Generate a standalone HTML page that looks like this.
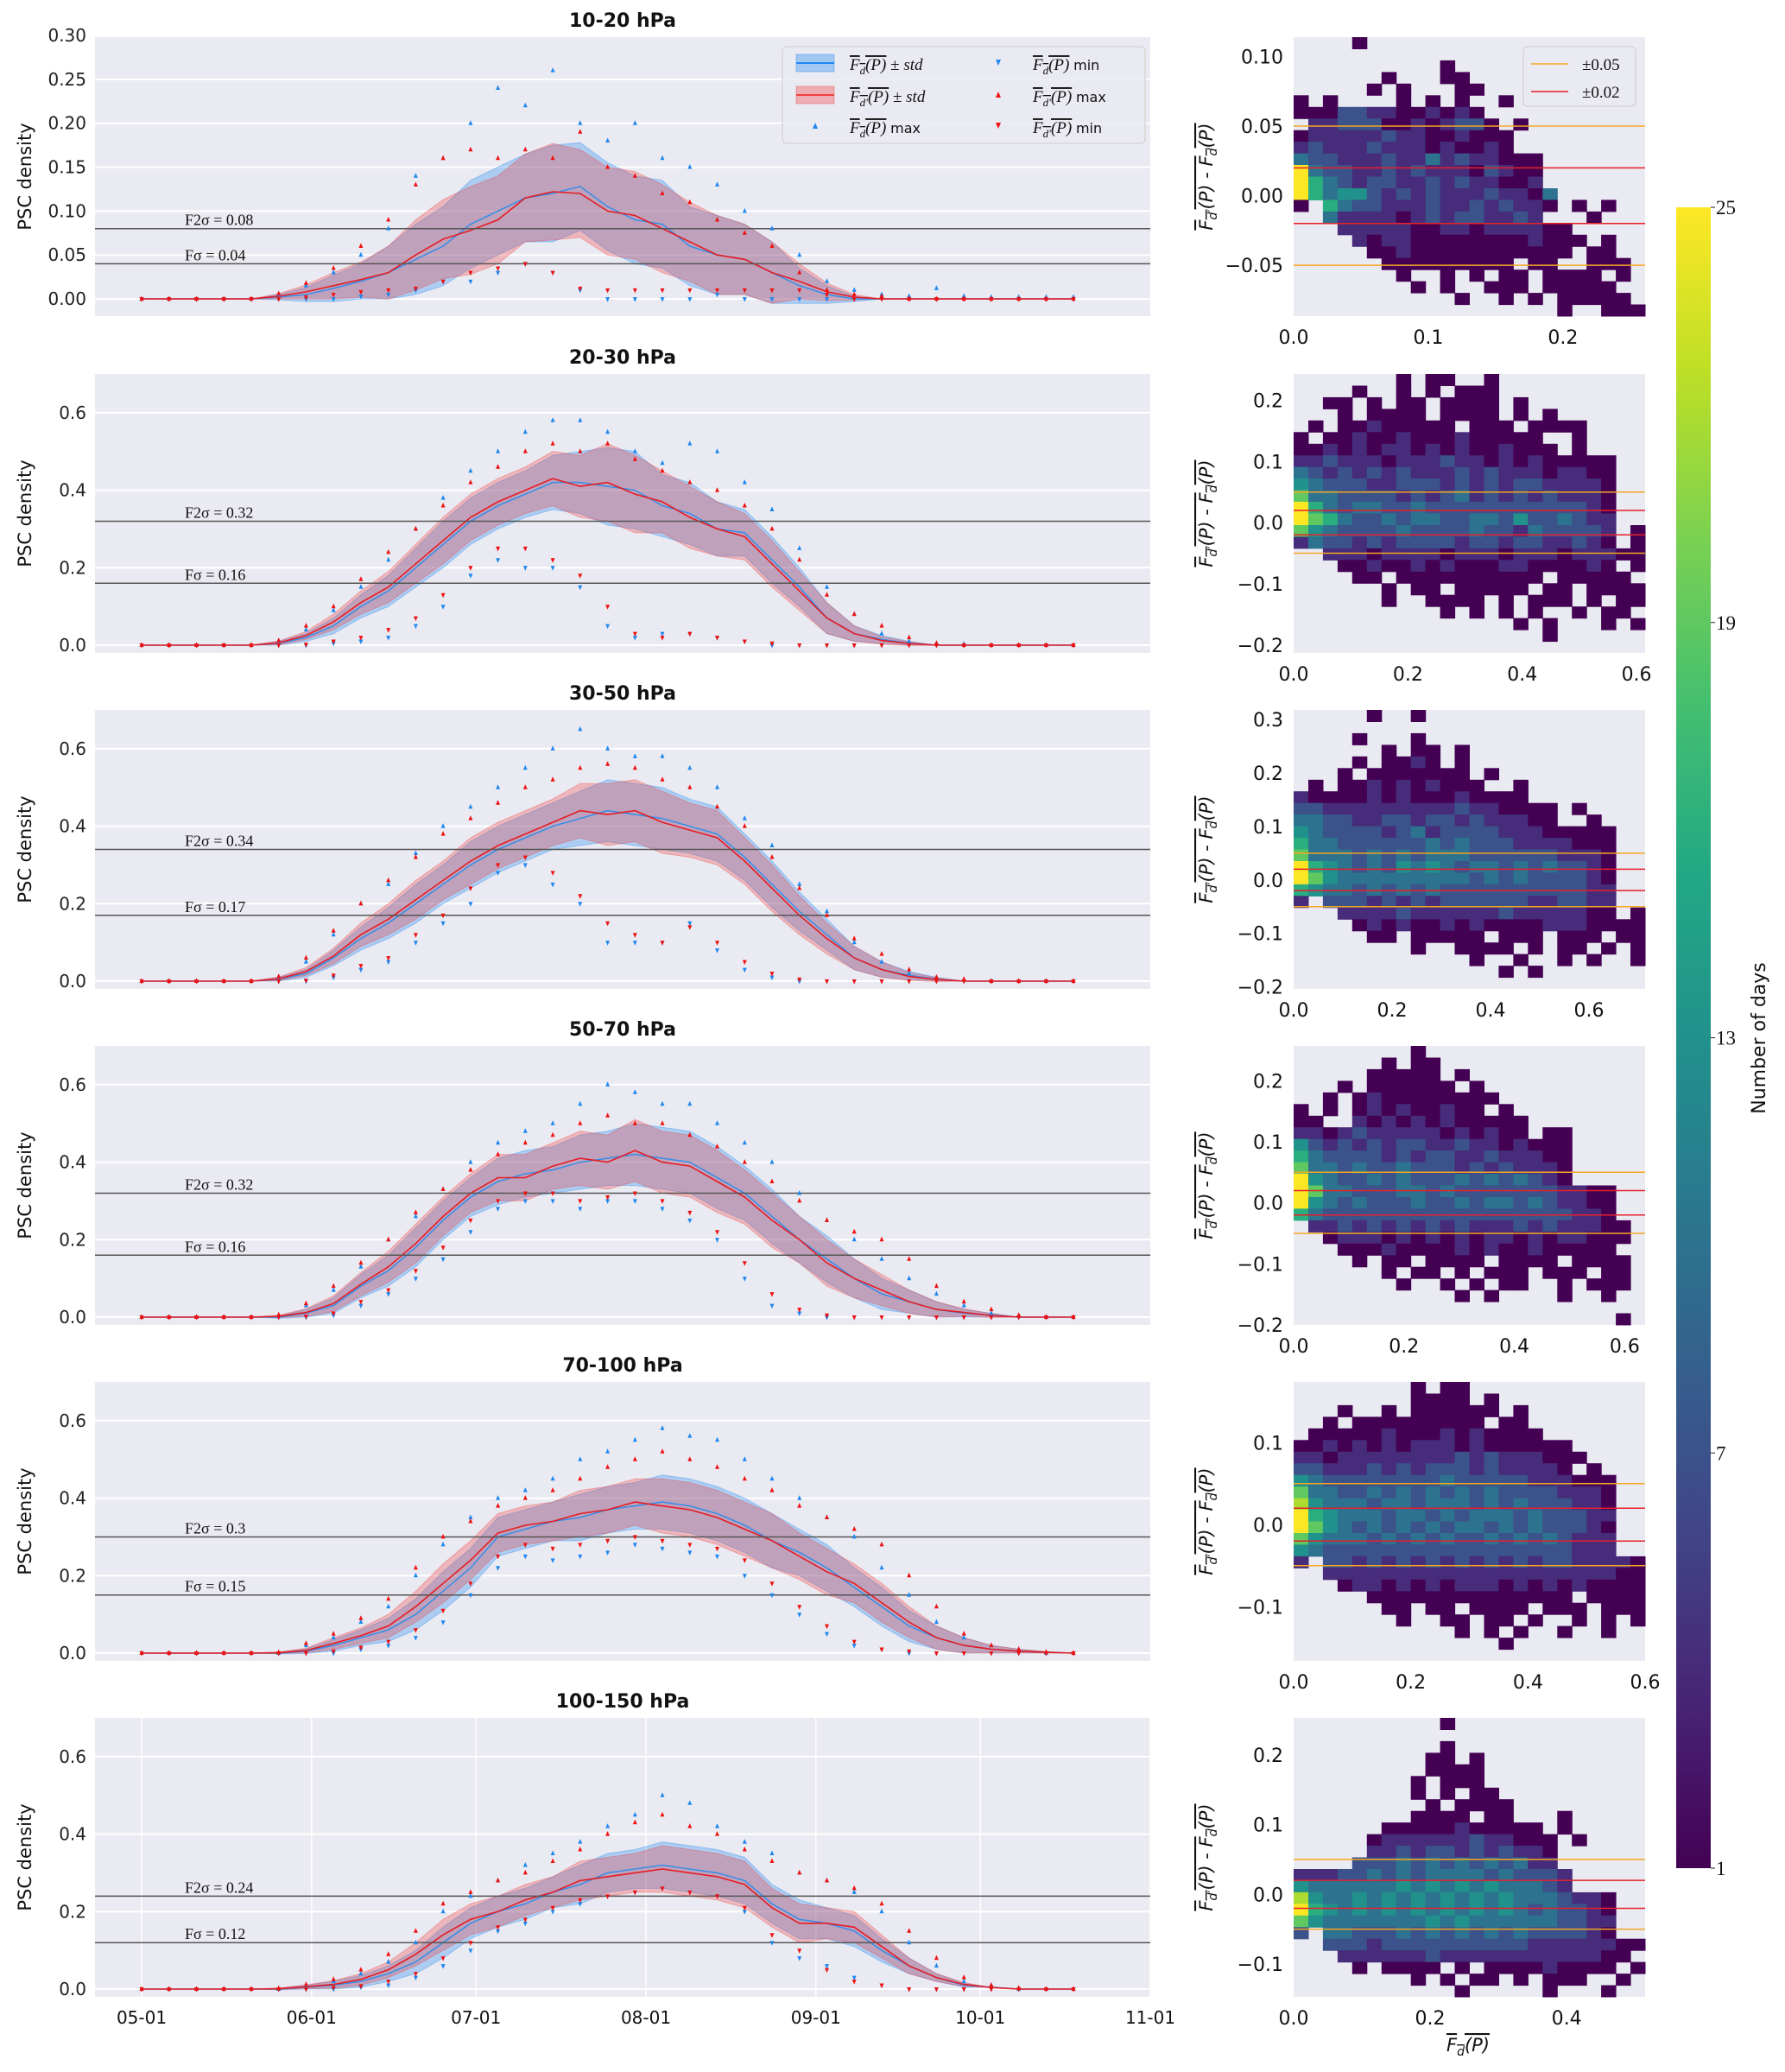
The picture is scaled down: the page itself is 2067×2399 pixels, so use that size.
<!DOCTYPE html>
<html><head><meta charset="utf-8"><title>PSC density</title>
<style>
html,body{margin:0;padding:0;background:#fff}
svg{display:block;font-family:"DejaVu Sans","Liberation Sans",sans-serif}
.serif{font-family:"Liberation Serif","DejaVu Serif",serif}
</style></head>
<body>
<svg id="fig" xmlns="http://www.w3.org/2000/svg" width="2067" height="2399" viewBox="0 0 2067 2399"></svg>
<script>
// ---- shared categories ----
const days = [0,5,10,15,20,25,30,35,40,45,50,55,60,65,70,75,80,85,90,95,100,105,110,115,120,125,130,135,140,145,150,155,160,165,170];
const dateTickDays = [0,31,61,92,123,153,184];
const dateTickLabels = ["05-01","06-01","07-01","08-01","09-01","10-01","11-01"];
const panelTitles = ["10-20 hPa","20-30 hPa","30-50 hPa","50-70 hPa","70-100 hPa","100-150 hPa"];
const f2sigma = [0.08,0.32,0.34,0.32,0.3,0.24];
const fsigma = [0.04,0.16,0.17,0.16,0.15,0.12];
const f2sigmaLabels = ["0.08","0.32","0.34","0.32","0.3","0.24"];
const fsigmaLabels = ["0.04","0.16","0.17","0.16","0.15","0.12"];
const cbarTicks = [1,7,13,19,25];

// ---- panel 1 ----
const p1MeanB = [0,0,0,0,0,0.002,0.005,0.012,0.02,0.03,0.045,0.06,0.085,0.1,0.115,0.12,0.128,0.105,0.09,0.085,0.06,0.05,0.045,0.03,0.015,0.005,0,0,0,0,0,0,0,0,0];
const p1MeanR = [0,0,0,0,0,0.003,0.008,0.015,0.022,0.03,0.05,0.068,0.078,0.09,0.115,0.122,0.12,0.1,0.095,0.08,0.065,0.05,0.045,0.03,0.02,0.008,0.002,0,0,0,0,0,0,0,0];
const p1Std = [0,0,0,0,0,0.003,0.008,0.015,0.02,0.03,0.04,0.045,0.05,0.05,0.05,0.055,0.05,0.05,0.05,0.05,0.045,0.045,0.04,0.035,0.02,0.01,0.003,0,0,0,0,0,0,0,0];
const p1MaxB = [0,0,0,0,0,0.005,0.015,0.03,0.05,0.08,0.14,0.16,0.2,0.24,0.22,0.26,0.2,0.18,0.2,0.16,0.15,0.13,0.1,0.08,0.05,0.02,0.01,0.005,0.003,0.012,0.003,0.002,0.002,0.002,0.002];
const p1MinB = [0,0,0,0,0,0,0,0,0.003,0.005,0.01,0.02,0.02,0.03,0.04,0.03,0.01,0,0,0,0,0.005,0,0,0,0,0,0,0,0,0,0,0,0,0];
const p1MaxR = [0,0,0,0,0,0.006,0.018,0.035,0.06,0.09,0.13,0.16,0.17,0.16,0.17,0.16,0.19,0.15,0.14,0.12,0.11,0.09,0.075,0.06,0.03,0.01,0.005,0.003,0,0,0,0,0,0,0];
const p1MinR = [0,0,0,0,0,0,0.002,0.005,0.008,0.01,0.012,0.02,0.03,0.035,0.04,0.03,0.012,0.01,0.01,0.01,0.01,0.01,0.01,0.01,0.01,0.005,0,0,0,0,0,0,0,0,0];
// ---- panel 2 ----
const p2MeanB = [0,0,0,0,0,0.005,0.02,0.05,0.1,0.14,0.2,0.26,0.32,0.36,0.39,0.42,0.42,0.41,0.4,0.36,0.34,0.3,0.29,0.22,0.15,0.07,0.03,0.015,0.005,0,0,0,0,0,0];
const p2MeanR = [0,0,0,0,0,0.006,0.025,0.06,0.11,0.15,0.21,0.27,0.33,0.37,0.4,0.43,0.41,0.42,0.39,0.37,0.33,0.3,0.28,0.21,0.14,0.07,0.03,0.012,0.004,0,0,0,0,0,0];
const p2Std = [0,0,0,0,0,0.005,0.01,0.02,0.03,0.04,0.05,0.06,0.06,0.06,0.06,0.07,0.08,0.1,0.1,0.08,0.08,0.07,0.06,0.06,0.05,0.04,0.02,0.01,0.005,0,0,0,0,0,0];
const p2MaxB = [0,0,0,0,0,0.01,0.04,0.09,0.15,0.22,0.3,0.38,0.45,0.5,0.55,0.58,0.58,0.55,0.5,0.47,0.52,0.5,0.42,0.35,0.25,0.15,0.08,0.03,0.01,0.005,0.003,0,0,0,0];
const p2MinB = [0,0,0,0,0,0,0,0.005,0.01,0.02,0.05,0.1,0.18,0.22,0.2,0.2,0.15,0.05,0.02,0.03,0.03,0.02,0.01,0,0,0,0,0,0,0,0,0,0,0,0];
const p2MaxR = [0,0,0,0,0,0.012,0.05,0.1,0.17,0.24,0.3,0.36,0.42,0.46,0.5,0.52,0.5,0.52,0.48,0.45,0.42,0.4,0.36,0.3,0.22,0.13,0.08,0.05,0.02,0.005,0,0,0,0,0];
const p2MinR = [0,0,0,0,0,0,0.002,0.01,0.02,0.04,0.07,0.13,0.2,0.25,0.25,0.22,0.18,0.1,0.03,0.02,0.03,0.02,0.01,0.005,0,0,0,0,0,0,0,0,0,0,0];
// ---- panel 3 ----
const p3MeanB = [0,0,0,0,0,0.005,0.02,0.06,0.11,0.15,0.2,0.25,0.3,0.34,0.37,0.4,0.42,0.44,0.43,0.42,0.4,0.38,0.32,0.25,0.18,0.12,0.06,0.03,0.015,0.005,0,0,0,0,0];
const p3MeanR = [0,0,0,0,0,0.006,0.025,0.065,0.12,0.16,0.21,0.26,0.31,0.35,0.38,0.41,0.44,0.43,0.44,0.41,0.39,0.37,0.31,0.24,0.17,0.11,0.06,0.03,0.012,0.004,0,0,0,0,0];
const p3Std = [0,0,0,0,0,0.005,0.01,0.02,0.03,0.04,0.05,0.05,0.06,0.06,0.06,0.06,0.07,0.08,0.08,0.08,0.07,0.07,0.06,0.06,0.05,0.04,0.03,0.02,0.01,0.005,0,0,0,0,0];
const p3MaxB = [0,0,0,0,0,0.01,0.05,0.12,0.2,0.25,0.33,0.4,0.45,0.5,0.55,0.6,0.65,0.6,0.58,0.58,0.55,0.5,0.42,0.35,0.25,0.18,0.1,0.05,0.02,0.01,0.004,0,0,0,0];
const p3MinB = [0,0,0,0,0,0,0,0.01,0.03,0.05,0.1,0.15,0.2,0.28,0.3,0.25,0.2,0.1,0.1,0.1,0.15,0.08,0.03,0.01,0,0,0,0,0,0,0,0,0,0,0];
const p3MaxR = [0,0,0,0,0,0.012,0.06,0.13,0.2,0.26,0.32,0.38,0.42,0.46,0.5,0.52,0.55,0.56,0.55,0.52,0.5,0.45,0.4,0.32,0.24,0.17,0.11,0.07,0.03,0.01,0.005,0,0,0,0];
const p3MinR = [0,0,0,0,0,0,0.002,0.015,0.04,0.06,0.12,0.17,0.24,0.3,0.32,0.28,0.22,0.15,0.12,0.1,0.14,0.1,0.05,0.02,0.005,0,0,0,0,0,0,0,0,0,0];
// ---- panel 4 ----
const p4MeanB = [0,0,0,0,0,0,0.01,0.03,0.08,0.12,0.18,0.25,0.31,0.35,0.37,0.38,0.4,0.41,0.42,0.41,0.4,0.36,0.32,0.26,0.2,0.15,0.1,0.06,0.04,0.02,0.01,0.005,0,0,0];
const p4MeanR = [0,0,0,0,0,0.002,0.012,0.035,0.085,0.13,0.19,0.26,0.32,0.36,0.36,0.39,0.41,0.4,0.43,0.4,0.39,0.35,0.31,0.25,0.2,0.14,0.1,0.07,0.04,0.02,0.012,0.004,0,0,0];
const p4Std = [0,0,0,0,0,0.003,0.01,0.02,0.03,0.04,0.05,0.05,0.05,0.06,0.06,0.06,0.07,0.07,0.08,0.08,0.08,0.08,0.07,0.07,0.06,0.06,0.05,0.04,0.03,0.02,0.01,0.005,0,0,0];
const p4MaxB = [0,0,0,0,0,0.005,0.03,0.07,0.13,0.2,0.26,0.33,0.4,0.45,0.48,0.5,0.55,0.6,0.58,0.55,0.55,0.5,0.45,0.4,0.32,0.25,0.2,0.15,0.1,0.06,0.03,0.01,0.003,0,0];
const p4MinB = [0,0,0,0,0,0,0,0.005,0.03,0.06,0.1,0.15,0.22,0.28,0.3,0.3,0.28,0.3,0.3,0.28,0.25,0.2,0.1,0.03,0.01,0,0,0,0,0,0,0,0,0,0];
const p4MaxR = [0,0,0,0,0,0.006,0.035,0.08,0.14,0.2,0.27,0.33,0.38,0.42,0.45,0.47,0.5,0.52,0.5,0.5,0.47,0.44,0.4,0.35,0.3,0.25,0.22,0.2,0.15,0.08,0.04,0.02,0.005,0,0];
const p4MinR = [0,0,0,0,0,0,0.002,0.01,0.04,0.07,0.12,0.18,0.25,0.3,0.32,0.32,0.3,0.31,0.32,0.3,0.27,0.22,0.14,0.06,0.02,0.005,0,0,0,0,0,0,0,0,0];
// ---- panel 5 ----
const p5MeanB = [0,0,0,0,0,0,0.005,0.02,0.04,0.06,0.1,0.16,0.22,0.3,0.32,0.34,0.35,0.37,0.38,0.39,0.38,0.36,0.33,0.29,0.26,0.22,0.17,0.12,0.07,0.04,0.02,0.01,0.005,0.002,0];
const p5MeanR = [0,0,0,0,0,0.001,0.007,0.025,0.045,0.07,0.12,0.18,0.24,0.31,0.33,0.34,0.36,0.37,0.39,0.38,0.37,0.35,0.32,0.29,0.25,0.21,0.18,0.13,0.08,0.04,0.02,0.01,0.005,0.002,0];
const p5Std = [0,0,0,0,0,0.002,0.006,0.015,0.02,0.03,0.04,0.05,0.05,0.05,0.05,0.05,0.06,0.06,0.06,0.07,0.07,0.07,0.07,0.07,0.06,0.06,0.05,0.05,0.04,0.03,0.02,0.01,0.005,0.002,0];
const p5MaxB = [0,0,0,0,0,0,0.02,0.04,0.08,0.12,0.2,0.28,0.35,0.4,0.42,0.45,0.5,0.52,0.55,0.58,0.56,0.55,0.5,0.45,0.4,0.35,0.3,0.22,0.15,0.08,0.04,0.02,0.01,0,0];
const p5MinB = [0,0,0,0,0,0,0,0,0.01,0.02,0.04,0.08,0.15,0.22,0.25,0.24,0.25,0.26,0.28,0.27,0.26,0.25,0.2,0.15,0.1,0.05,0.02,0.01,0,0,0,0,0,0,0];
const p5MaxR = [0,0,0,0,0,0.002,0.025,0.05,0.09,0.14,0.22,0.3,0.34,0.38,0.4,0.42,0.45,0.48,0.5,0.52,0.5,0.48,0.45,0.42,0.38,0.35,0.32,0.28,0.2,0.12,0.05,0.02,0.01,0.003,0];
const p5MinR = [0,0,0,0,0,0,0,0.005,0.015,0.03,0.06,0.11,0.18,0.25,0.28,0.27,0.28,0.29,0.3,0.29,0.28,0.27,0.24,0.18,0.12,0.07,0.03,0.01,0.005,0,0,0,0,0,0];
// ---- panel 6 ----
const p6MeanB = [0,0,0,0,0,0,0.005,0.01,0.02,0.04,0.07,0.12,0.17,0.2,0.22,0.25,0.27,0.3,0.31,0.32,0.31,0.3,0.28,0.22,0.18,0.17,0.15,0.1,0.06,0.03,0.01,0.005,0,0,0];
const p6MeanR = [0,0,0,0,0,0.001,0.006,0.012,0.025,0.05,0.09,0.14,0.18,0.2,0.23,0.25,0.28,0.29,0.3,0.31,0.3,0.29,0.27,0.21,0.17,0.17,0.16,0.11,0.06,0.03,0.012,0.004,0,0,0];
const p6Std = [0,0,0,0,0,0.002,0.005,0.01,0.015,0.02,0.03,0.04,0.04,0.04,0.04,0.04,0.05,0.05,0.05,0.06,0.06,0.06,0.06,0.05,0.05,0.04,0.04,0.03,0.02,0.01,0.005,0,0,0,0];
const p6MaxB = [0,0,0,0,0,0,0.01,0.02,0.04,0.07,0.12,0.2,0.24,0.28,0.32,0.35,0.38,0.42,0.45,0.5,0.48,0.42,0.38,0.35,0.3,0.28,0.25,0.2,0.12,0.06,0.02,0.01,0,0,0];
const p6MinB = [0,0,0,0,0,0,0,0,0.005,0.01,0.03,0.06,0.1,0.15,0.17,0.2,0.22,0.24,0.25,0.26,0.25,0.24,0.2,0.12,0.08,0.06,0.03,0.01,0,0,0,0,0,0,0];
const p6MaxR = [0,0,0,0,0,0.002,0.012,0.025,0.05,0.09,0.15,0.22,0.25,0.28,0.3,0.33,0.36,0.4,0.43,0.45,0.42,0.4,0.36,0.33,0.3,0.28,0.26,0.22,0.15,0.08,0.03,0.01,0.003,0,0];
const p6MinR = [0,0,0,0,0,0,0,0.004,0.008,0.02,0.04,0.08,0.12,0.16,0.18,0.21,0.23,0.24,0.25,0.26,0.25,0.24,0.21,0.14,0.1,0.05,0.02,0.01,0,0,0,0,0,0,0];

// ---- heatmap counts (digit codes; '.' = empty), top row = highest y ----
const countCodes = {"1":1,"2":4,"3":7,"4":10,"5":13,"6":16,"7":19,"8":22,"9":25};
const h1Rows = ["....1...................","........................","..........1.............","......1...11............",".....1.1...11...........","1.1....1.1.1..1.........","1113322112121...........",".2233311212331.1........","122222322112111.........","232223222121121.........","43322232242322111.......","94332232322213211.......","96432332232322112.......","964553232322232214......","1.6433222322323221.1.1..","..422221232332232...1...","...2222211221222211.....","....2122111111112111.1..",".....11211111111111.11..","......111111111.11..111.",".......1..1.1.11.1111.1.","........1.1..111.11111..","...........1..1.1.11111.","..................1..111"];
const h2Rows = [".......1.11..1..........","....1..1.1.111..........","..11.1.11.1111.1........","...1.1111.1111.1.1......",".1.11211111.111.1111....","1.112112111211111..1....","112121221212112111.1....","2232221222322121211111..","4323232322232322212211..","5433322333232323322221..","7443333232342323232221..","9643443343333333333321..","9764334344334435334322..","7543333433334332433332.1","2433232333323323322321.1","..2221222212221222122211","...1121121211122111121.1","....11.1111111111.11111.","......1.11.11111.11.1111","......1..1111.1.111.1.11","..........1.1.1.1..1.11.","...............1.1...1.1",".................1......","........................"];
const h3Rows = [".....1..1...............","........................","....1...1...............","......1.11.1............","....1.1121.1............","...1.1111111.1..........",".1.1121212111..1........","2111121211121111........","332222222223221111.1....","443322332332322211..1...","5433332342333322211111..","6443333334343332222111..","7444343434443333332221..","9654343545434434343321..","9754444444443434333321..","6544343434333333333322..","2.33323232333333223322..","...2222322222232222211.1","....12121121211112221111",".....11.11111.111.111.11","........1..1111.1.11.1.1","............1..1..1.1..1","..............1.1.......","........................"];
const h4Rows = ["........1...............","......1.11..............",".....11111.1............","...1.111111.1...........","..1.1211111111..........","1.1.121211211.1.........","11..212121211111........","2212322222121211.11.....","5323232332232212111.....","6433332323322322211.....","7443433433323232221.....","9543343433343434321.....","9744333443433333332211..","9543433343343443432211..","6433333333333333333221..",".2232323232322232322211.","..122212121212212122111.","...1112111121211211111..","....1.11.1111.1111.1111.","......1.11.1.111.111.11.",".......1..1.1.11..1.111.","...........1.1....1..1..","........................","......................1."];
const h5Rows = ["........1.11............","........1111.1..........","...1..1.111111.1........","..1.111111111.11........",".1111121112121111.......","1121212122212111111.....","22122222222323222111....","3322232323332322221.1...","5433333333433333222111..","7443343434343433332221..","8544434434443434333221..","9654443443434443433322..","9754343434344343433321..","7544434343433434343222..","5433333333333333333222..","2.3323232323232323322221","..2222222222222222222211","...122121212221212121111",".....11111111111111.1111","......11.11.1111.111.111",".......1..11.11.1..1.1.1","...........1.1.1..1..1..","..............1.........","........................"];
const h6Rows = ["..........1.............","........................","..........1.............",".........11.1...........",".........1111...........","........1.111...........","........1.1.11..........",".........1.1111.........","........1111.11...1.....","......11111211111.1.....",".....1222222322111.1....",".....2232332323221......","....33343434343422......","2223343434444343332.....","5444444545454544432.....","8544545454545454443221..","9654545454545454343321..","7544444445454444443322..","3.44333434343434333321..","..3332333333333322222211","...22222232222222222211.","....1.1111.1.111121111.1","........1.1.11.1.111..1.","...........1.....1...1.."];

// ---- right-panel axis ranges ----
const rightXmax = [0.261,0.615,0.714,0.637,0.6,0.515];
const rightYmin = [-0.0866,-0.213,-0.204,-0.2,-0.166,-0.147];
const rightYmax = [0.114,0.243,0.318,0.257,0.174,0.253];
const rightXticks = [[0,0.1,0.2],[0,0.2,0.4,0.6],[0,0.2,0.4,0.6],[0,0.2,0.4,0.6],[0,0.2,0.4,0.6],[0,0.2,0.4]];
const rightYticks = [[-0.05,0,0.05,0.10],[-0.2,-0.1,0,0.1,0.2],[-0.2,-0.1,0,0.1,0.2,0.3],[-0.2,-0.1,0,0.1,0.2],[-0.1,0,0.1],[-0.1,0,0.1,0.2]];

const panels = [
 {mb:p1MeanB,mr:p1MeanR,sd:p1Std,xb:p1MaxB,nb:p1MinB,xr:p1MaxR,nr:p1MinR,h:h1Rows},
 {mb:p2MeanB,mr:p2MeanR,sd:p2Std,xb:p2MaxB,nb:p2MinB,xr:p2MaxR,nr:p2MinR,h:h2Rows},
 {mb:p3MeanB,mr:p3MeanR,sd:p3Std,xb:p3MaxB,nb:p3MinB,xr:p3MaxR,nr:p3MinR,h:h3Rows},
 {mb:p4MeanB,mr:p4MeanR,sd:p4Std,xb:p4MaxB,nb:p4MinB,xr:p4MaxR,nr:p4MinR,h:h4Rows},
 {mb:p5MeanB,mr:p5MeanR,sd:p5Std,xb:p5MaxB,nb:p5MinB,xr:p5MaxR,nr:p5MinR,h:h5Rows},
 {mb:p6MeanB,mr:p6MeanR,sd:p6Std,xb:p6MaxB,nb:p6MinB,xr:p6MaxR,nr:p6MinR,h:h6Rows}
];

// ---------------- rendering ----------------
const NS = "http://www.w3.org/2000/svg";
const svg = document.getElementById("fig");
function mk(tag, attrs, parent, text){
  const e = document.createElementNS(NS, tag);
  for (const k in attrs) e.setAttribute(k, attrs[k]);
  if (text !== undefined) e.textContent = text;
  (parent || svg).appendChild(e);
  return e;
}
const LX0 = 110, LX1 = 1332, RX0 = 1498, RX1 = 1905, PH = 323;
const tops = [43,433,822,1211,1600,1989];
const BLUE = "#1e88f0", RED = "#ee1111";
const viridis = ["#440154","#482475","#414487","#355f8d","#2a788e","#21918c","#22a884","#44bf70","#7ad151","#bddf26","#fde725"];
function hex2rgb(h){return [parseInt(h.substr(1,2),16),parseInt(h.substr(3,2),16),parseInt(h.substr(5,2),16)];}
function vir(t){
  t = Math.max(0, Math.min(1, t));
  const p = t*10, i = Math.min(9, Math.floor(p)), f = p - i;
  const a = hex2rgb(viridis[i]), b = hex2rgb(viridis[i+1]);
  return "rgb(" + a.map((v,k)=>Math.round(v + (b[k]-v)*f)).join(",") + ")";
}
function fmt(v, d){ const s = Math.abs(v).toFixed(d); return (v < -1e-9 ? "\u2212" : "") + s; }
function xDay(d){ return 164 + d * (1332 - 164) / 184; }

panels.forEach((P, pi) => {
  const top = tops[pi];
  const ymin = pi === 0 ? -0.0196 : -0.02;
  const ymax = pi === 0 ? 0.298 : 0.7;
  const Y = v => top + (ymax - v) / (ymax - ymin) * PH;
  const g = mk("g", {}, svg);
  
  
  const bg = mk("rect", {x:LX0, y:top, width:LX1-LX0, height:PH, fill:"#eaeaf2"}, g);
  
  
  const yt = pi === 0 ? [0,0.05,0.1,0.15,0.2,0.25,0.3] : [0,0.2,0.4,0.6];
  yt.forEach(v => {
    mk("line", {x1:LX0, x2:LX1, y1:Y(v), y2:Y(v), stroke:"#fff", "stroke-width":2}, g);
    const t = mk("text", {x:LX0-10, y:Y(v)+7, "text-anchor":"end", "font-size":20, fill:"#222"}, g, v.toFixed(pi===0?2:1));
    
    
  });
  if (pi === 5) dateTickDays.forEach(d => mk("line", {x1:xDay(d), x2:xDay(d), y1:top, y2:top+PH, stroke:"#fff", "stroke-width":1.5}, g));
  const tt = mk("text", {x:(LX0+LX1)/2, y:top-12, "text-anchor":"middle", "font-size":22, "font-weight":"bold", fill:"#111"}, g, panelTitles[pi]);
  
  
  const yl = mk("text", {x:0, y:0, transform:"translate(36," + (top+PH/2) + ") rotate(-90)", "text-anchor":"middle", "font-size":21, fill:"#111"}, g, "PSC density");
  
  
  function band(mean, color, name){
    let up = "", dn = "";
    days.forEach((d,i) => { up += (i?"L":"M") + xDay(d).toFixed(1) + "," + Y(mean[i] + P.sd[i]).toFixed(1); });
    for (let i = days.length-1; i >= 0; i--) dn += "L" + xDay(days[i]).toFixed(1) + "," + Y(mean[i] - P.sd[i]).toFixed(1);
    const b = mk("path", {d:up + dn + "Z", fill:color, "fill-opacity":0.3, stroke:color, "stroke-opacity":0.35, "stroke-width":1}, g);
    
    
  }
  band(P.mb, "#1e88f0", "blue-std-band");
  band(P.mr, "#f04040", "red-std-band");
  function line(mean, color, name){
    let d = "";
    days.forEach((dd,i) => { d += (i?"L":"M") + xDay(dd).toFixed(1) + "," + Y(mean[i]).toFixed(1); });
    const l = mk("path", {d:d, fill:"none", stroke:color, "stroke-width":1.6}, g);
    
    
  }
  line(P.mb, "#3a8ee6", "blue-mean-line");
  line(P.mr, "#e51c23", "red-mean-line");
  [[f2sigma[pi],"F2\u03c3 = " + f2sigmaLabels[pi],"f2sigma"],[fsigma[pi],"F\u03c3 = " + fsigmaLabels[pi],"fsigma"]].forEach(s => {
    const l = mk("line", {x1:LX0, x2:LX1, y1:Y(s[0]), y2:Y(s[0]), stroke:"#555", "stroke-width":1.5}, g);
    
    
    const t = mk("text", {x:214, y:Y(s[0])-4, "font-size":18, fill:"#111", class:"serif"}, g, s[1]);
    
    
  });
  function tri(arr, color, upward, name){
    days.forEach((d,i) => {
      const x = xDay(d), y = Y(arr[i]);
      const pts = upward ? [x,y-3.5, x-2.5,y+2, x+2.5,y+2] : [x,y+3.5, x-2.5,y-2, x+2.5,y-2];
      const m = mk("polygon", {points:pts.map(v=>v.toFixed(1)).join(" "), fill:color}, g);
      
      
    });
  }
  tri(P.nb, BLUE, false, "blue-min-marker");
  tri(P.xb, BLUE, true, "blue-max-marker");
  tri(P.nr, RED, false, "red-min-marker");
  tri(P.xr, RED, true, "red-max-marker");

  // ---------- right heatmap ----------
  const xmax = rightXmax[pi], rymin = rightYmin[pi], rymax = rightYmax[pi];
  const RXs = v => RX0 + v / xmax * (RX1 - RX0);
  const RYs = v => top + (rymax - v) / (rymax - rymin) * PH;
  const rg = mk("g", {}, svg);
  
  
  const rbg = mk("rect", {x:RX0, y:top, width:RX1-RX0, height:PH, fill:"#eaeaf2"}, rg);
  
  
  const rows = P.h, ny = rows.length, nx = rows[0].length;
  const dx = xmax / nx, dy = (rymax - rymin) / ny;
  rows.forEach((row, r) => {
    for (let c = 0; c < nx; c++){
      const ch = row[c];
      if (!(ch in countCodes)) continue;
      const cnt = countCodes[ch];
      const x0 = RXs(c*dx), x1 = RXs((c+1)*dx);
      const y0 = RYs(rymax - r*dy), y1 = RYs(rymax - (r+1)*dy);
      const cell = mk("rect", {x:x0.toFixed(1), y:y0.toFixed(1), width:(x1-x0+0.5).toFixed(1), height:(y1-y0+0.5).toFixed(1), fill:vir((cnt-1)/24)}, rg);
      
      
    }
  });
  [[0.05,"#f5a623","orange-threshold"],[-0.05,"#f5a623","orange-threshold"],[0.02,"#e8202a","red-threshold"],[-0.02,"#e8202a","red-threshold"]].forEach(h => {
    const l = mk("line", {x1:RX0, x2:RX1, y1:RYs(h[0]), y2:RYs(h[0]), stroke:h[1], "stroke-width":1.5}, rg);
    
    
  });
  rightYticks[pi].forEach(v => {
    const t = mk("text", {x:RX0-12, y:RYs(v)+8, "text-anchor":"end", "font-size":22, fill:"#111"}, rg, fmt(v, pi===0?2:1));
    
    
  });
  rightXticks[pi].forEach(v => {
    const t = mk("text", {x:RXs(v), y:top+PH+32, "text-anchor":"middle", "font-size":22, fill:"#111"}, rg, fmt(v, 1));
    
    
  });
  const ryl = mk("text", {x:0, y:0, transform:"translate(1404," + (top+PH/2) + ") rotate(-90)", "text-anchor":"middle", "font-size":21, fill:"#111", "font-style":"italic", "text-decoration":"overline"}, rg);
  
  
  ryl.innerHTML = 'F<tspan font-size="14" dy="5">d\u2032</tspan><tspan dy="-5">(P)</tspan><tspan font-style="normal"> - </tspan>F<tspan font-size="14" dy="5">d</tspan><tspan dy="-5">(P)</tspan>';
});

dateTickDays.forEach((d,i) => {
  const t = mk("text", {x:xDay(d), y:2343, "text-anchor":"middle", "font-size":20, fill:"#111"}, svg, dateTickLabels[i]);
  
  
});
const bxl = mk("text", {x:1700, y:2375, "text-anchor":"middle", "font-size":21, fill:"#111", "font-style":"italic", "text-decoration":"overline"}, svg);


bxl.innerHTML = 'F<tspan font-size="14" dy="5">d</tspan><tspan dy="-5">(P)</tspan>';

const lg = mk("g", {}, svg);


mk("rect", {x:906, y:54, width:420, height:112, rx:5, fill:"#eaeaf2", "fill-opacity":0.85, stroke:"#ccc"}, lg);
function legItem(x, y, kind, color, label){
  const it = mk("g", {}, lg);
  
  
  if (kind === "band"){
    mk("rect", {x:x, y:y-11, width:44, height:20, fill:color, "fill-opacity":0.35, stroke:color, "stroke-opacity":0.4}, it);
    mk("line", {x1:x, x2:x+44, y1:y-1, y2:y-1, stroke:color, "stroke-width":2}, it);
  } else {
    const cx = x+22;
    const pts = kind === "up" ? [cx,y-5, cx-3,y+2, cx+3,y+2] : [cx,y+2, cx-3,y-5, cx+3,y-5];
    mk("polygon", {points:pts.join(" "), fill:color}, it);
  }
  const t = mk("text", {x:x+62, y:y+7, "font-size":19, fill:"#111", class:"serif"}, it);
  t.innerHTML = label;
}
const fd = '<tspan text-decoration="overline" font-style="italic">F<tspan font-size="13" dy="5">d</tspan><tspan dy="-5">(P)</tspan></tspan>';
const fdp = '<tspan text-decoration="overline" font-style="italic">F<tspan font-size="13" dy="5">d\u2032</tspan><tspan dy="-5">(P)</tspan></tspan>';
legItem(922, 74, "band", "#1e88f0", fd + ' \u00b1 <tspan font-style="italic">std</tspan>');
legItem(922, 111, "band", "#f04040", fdp + ' \u00b1 <tspan font-style="italic">std</tspan>');
legItem(922, 147, "up", BLUE, fd + ' <tspan font-family="DejaVu Sans" font-size="16">max</tspan>');
legItem(1134, 74, "down", BLUE, fd + ' <tspan font-family="DejaVu Sans" font-size="16">min</tspan>');
legItem(1134, 111, "up", RED, fdp + ' <tspan font-family="DejaVu Sans" font-size="16">max</tspan>');
legItem(1134, 147, "down", RED, fdp + ' <tspan font-family="DejaVu Sans" font-size="16">min</tspan>');

const lg2 = mk("g", {}, svg);


mk("rect", {x:1764, y:54, width:130, height:69, rx:5, fill:"#eaeaf2", "fill-opacity":0.85, stroke:"#ccc"}, lg2);
mk("line", {x1:1773, x2:1816, y1:74, y2:74, stroke:"#f5a623", "stroke-width":1.5}, lg2);
mk("line", {x1:1773, x2:1816, y1:106, y2:106, stroke:"#e8202a", "stroke-width":1.5}, lg2);
mk("text", {x:1832, y:81, "font-size":19, class:"serif", fill:"#111"}, lg2, "\u00b10.05");
mk("text", {x:1832, y:113, "font-size":19, class:"serif", fill:"#111"}, lg2, "\u00b10.02");

const cb = mk("g", {}, svg);


const defs = mk("defs", {}, svg);
const grad = mk("linearGradient", {id:"vg", x1:0, y1:1, x2:0, y2:0}, defs);
viridis.forEach((c,i) => mk("stop", {offset:(i/10), "stop-color":c}, grad));
mk("rect", {x:1941, y:240, width:40, height:1923, fill:"url(#vg)"}, cb);
const CBY = v => 2163 - (v - 1) / 24 * 1923;
cbarTicks.forEach(v => {
  mk("line", {x1:1981, x2:1986, y1:CBY(v), y2:CBY(v), stroke:"#222", "stroke-width":1}, cb);
  const t = mk("text", {x:1987, y:CBY(v)+8, "font-size":23, class:"serif", fill:"#111"}, cb, String(v));
  
  
});
const cbl = mk("text", {x:0, y:0, transform:"translate(2044,1202) rotate(-90)", "text-anchor":"middle", "font-size":22, fill:"#111"}, cb, "Number of days");


</script>
</body></html>
